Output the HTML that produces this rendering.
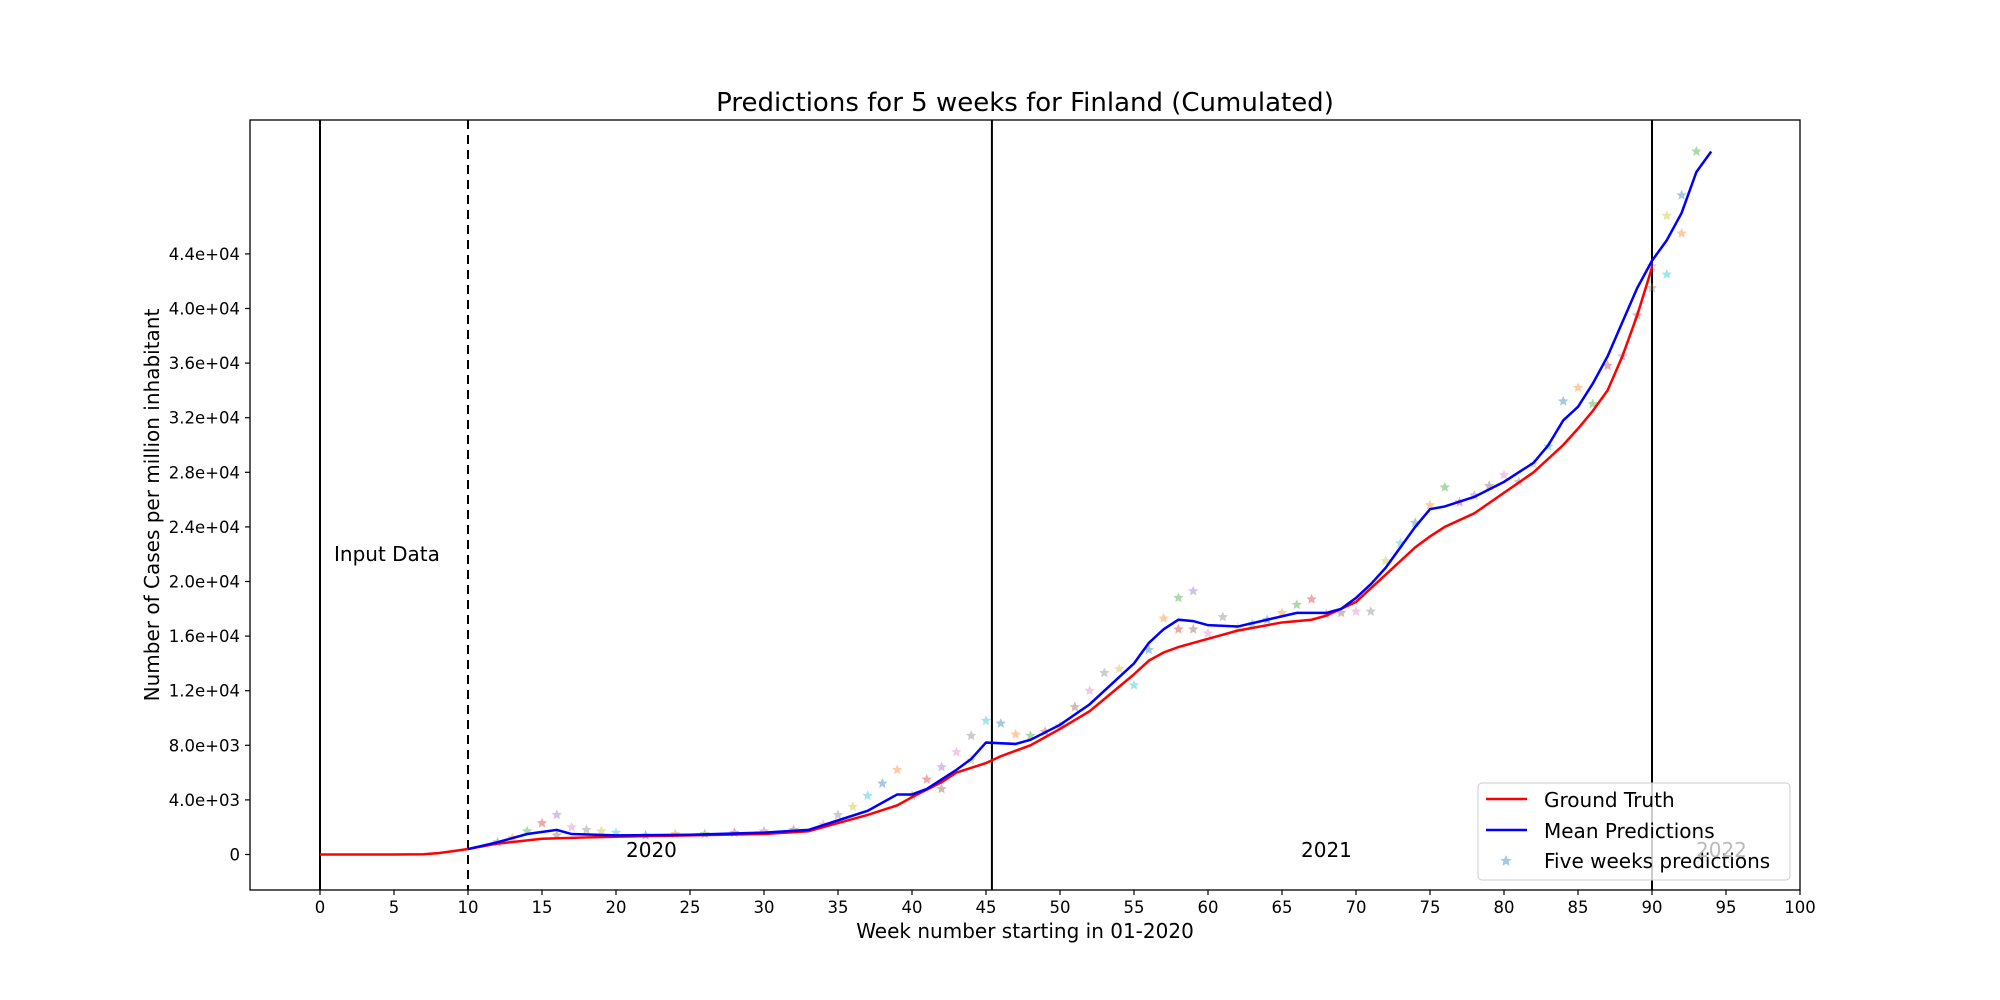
<!DOCTYPE html>
<html><head><meta charset="utf-8"><style>
html,body{margin:0;padding:0;background:#fff}
svg{display:block;font-family:"DejaVu Sans","Liberation Sans",sans-serif}
</style></head><body>
<svg id="chart" width="2000" height="1000" viewBox="0 0 2000 1000" xmlns="http://www.w3.org/2000/svg"></svg>
<script>
const weeksGT=[0,5,7,8,9,10,12,15,18,20,25,30,33,35,37,39,40,42,43,45,46,48,50,52,54,55,56,57,58,60,62,65,67,68,70,71,72,74,75,76,78,80,82,84,85,86,87,88,89,90];
const valuesGT=[0,0,20,100,250,400,800,1150,1250,1300,1400,1500,1700,2300,2900,3600,4200,5300,6000,6700,7200,8000,9200,10500,12300,13200,14200,14800,15200,15800,16400,17000,17200,17500,18500,19500,20500,22500,23300,24000,25000,26500,28000,30000,31200,32500,34000,36500,39500,43000];
const weeksMean=[10,12,14,16,17,20,25,30,33,35,37,39,40,41,43,44,45,47,48,50,52,54,55,56,57,58,59,60,62,64,66,68,69,70,71,72,73,74,75,76,78,80,82,83,84,85,86,87,88,89,90,91,92,93,94];
const valuesMean=[400,900,1500,1800,1500,1400,1450,1600,1800,2500,3200,4400,4400,4800,6200,7000,8200,8100,8400,9500,11000,13000,14000,15500,16500,17200,17100,16800,16700,17200,17700,17700,18000,18800,19800,21000,22500,24000,25300,25500,26200,27300,28700,30000,31800,32800,34500,36500,39000,41500,43500,45000,47000,50000,51500];
const starWeeks=[12,13,14,15,16,16,17,18,19,20,22,24,26,28,30,32,34,35,36,37,38,39,40,41,42,42,43,44,44,45,46,47,48,49,50,51,52,53,54,55,56,57,58,58,59,59,60,61,62,63,64,65,66,67,68,69,70,71,72,73,74,75,76,77,78,79,80,81,82,83,84,85,86,87,88,89,90,90,91,91,92,92,93];
const starValues=[900,1200,1700,2300,2900,1400,2000,1800,1700,1600,1400,1500,1500,1600,1700,1800,2200,2900,3500,4300,5200,6200,4300,5500,6400,4800,7500,8700,6900,9800,9600,8800,8700,9000,9400,10800,12000,13300,13600,12400,15000,17300,18800,16500,19300,16500,16200,17400,16600,16900,17200,17700,18300,18700,17600,17700,17800,17800,21500,22800,24300,25600,26900,25800,26300,27000,27800,27300,28600,29900,33200,34200,33000,35800,36500,39500,43100,41500,46800,42500,48300,45500,51500];
const yTickVals=[0,4000,8000,12000,16000,20000,24000,28000,32000,36000,40000,44000];
const yTickLabels=["0","4.0e+03","8.0e+03","1.2e+04","1.6e+04","2.0e+04","2.4e+04","2.8e+04","3.2e+04","3.6e+04","4.0e+04","4.4e+04"];
const xTickVals=[0,5,10,15,20,25,30,35,40,45,50,55,60,65,70,75,80,85,90,95,100];
const starColors=["#1f77b4","#ff7f0e","#2ca02c","#d62728","#9467bd","#8c564b","#e377c2","#7f7f7f","#bcbd22","#17becf"];
const L=250,R=1800,T=120,B=890;
const X=v=>320+v*14.8;
const Y=v=>854.5-v*(54.6/4000);
const svg=document.getElementById('chart');
const NS='http://www.w3.org/2000/svg';
function mk(tag,attrs,parent){const e=document.createElementNS(NS,tag);for(const k in attrs)e.setAttribute(k,attrs[k]);(parent||svg).appendChild(e);return e;}
function txt(s,attrs){const e=mk('text',attrs);e.textContent=s;return e;}
let t=txt('Predictions for 5 weeks for Finland (Cumulated)',{x:1025,y:111,'font-size':26,'text-anchor':'middle'});

[[0,''],[10,'9,6'],[45.4,''],[90,'']].forEach((d,i)=>{const l=mk('line',{x1:X(d[0]),x2:X(d[0]),y1:T,y2:B,stroke:'#000','stroke-width':2,'stroke-dasharray':d[1]});
});
const sg=mk('g',{});
function star(cx,cy,r,fill,parent){let p='';for(let i=0;i<10;i++){const a=-Math.PI/2+i*Math.PI/5;const rr=i%2?r*0.45:r;p+=(cx+rr*Math.cos(a)).toFixed(1)+','+(cy+rr*Math.sin(a)).toFixed(1)+' ';}
return mk('polygon',{points:p,fill:fill,'fill-opacity':0.4},parent);}
starWeeks.forEach((w,i)=>{const s=star(X(w),Y(starValues[i]),5.5,starColors[i%10],sg);
});
const gt=mk('polyline',{points:weeksGT.map((w,i)=>X(w)+','+Y(valuesGT[i])).join(' '),fill:'none',stroke:'#ff0000','stroke-width':2.5});

const mp=mk('polyline',{points:weeksMean.map((w,i)=>X(w)+','+Y(valuesMean[i])).join(' '),fill:'none',stroke:'#0000ff','stroke-width':2.5});

t=txt('Input Data',{x:334,y:561,'font-size':20});
t=txt('2020',{x:626,y:857,'font-size':20});
t=txt('2021',{x:1301,y:857,'font-size':20});
const fr=mk('rect',{x:L,y:T,width:R-L,height:B-T,fill:'none',stroke:'#000','stroke-width':1.3});

yTickVals.forEach((v,i)=>{const l=mk('line',{x1:L-5,x2:L,y1:Y(v),y2:Y(v),stroke:'#000','stroke-width':1.2});

const tt=txt(yTickLabels[i],{x:L-10,y:Y(v)+6,'font-size':16.5,'text-anchor':'end'});
});
xTickVals.forEach(v=>{const l=mk('line',{x1:X(v),x2:X(v),y1:B,y2:B+5,stroke:'#000','stroke-width':1.2});

const tt=txt(String(v),{x:X(v),y:B+23,'font-size':16.5,'text-anchor':'middle'});
});
t=txt('Week number starting in 01-2020',{x:1025,y:938,'font-size':20,'text-anchor':'middle'});
t=txt('Number of Cases per million inhabitant',{x:0,y:0,'font-size':20,'text-anchor':'middle',transform:'translate(159,505) rotate(-90)'});
const lg=mk('g',{});
mk('rect',{x:1478,y:783,width:312,height:97,rx:4,fill:'#fff','fill-opacity':0.8,stroke:'#ccc','stroke-width':1},lg);
let e=mk('line',{x1:1486,x2:1527,y1:799,y2:799,stroke:'#ff0000','stroke-width':2.5},lg);
e=mk('line',{x1:1486,x2:1527,y1:830,y2:830,stroke:'#0000ff','stroke-width':2.5},lg);
e=star(1506,861,6,'#1f77b4',lg);
[['Ground Truth',807],['Mean Predictions',838],['Five weeks predictions',868]].forEach(d=>{const q=mk('text',{x:1544,y:d[1],'font-size':20},lg);q.textContent=d[0];
});
t=txt('2022',{x:1696,y:857,'font-size':20,fill:'#bbb'});
</script>
</body></html>
